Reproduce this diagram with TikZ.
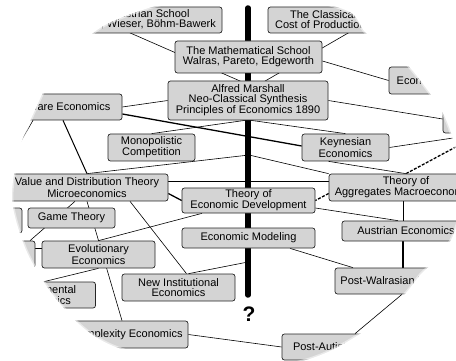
\documentclass[tikz,border=0pt]{standalone}
\usepackage{fontspec}
\setmainfont{Liberation Sans}
\usetikzlibrary{backgrounds}
\definecolor{boxgray}{RGB}{212,212,212}
\begin{document}
\begin{tikzpicture}[x=1pt,y=-1pt,
  box/.style={draw=black!85, line width=0.7pt, fill=boxgray, rounded corners=2.5pt,
    inner sep=0pt, align=center, font=\fontsize{11}{10}\selectfont},
  conn/.style={line width=0.6pt, black},
  heavyconn/.style={line width=1.3pt, black},
  dashconn/.style={line width=1.3pt, black, dashed, dash pattern=on 3pt off 1.5pt},
  mainbar/.style={line width=5.5pt, black, line cap=round}]
\useasboundingbox (0,0) rectangle (456,361);

% boxes
\node[box, minimum width=164pt, minimum height=26pt] (aus) at (140,20) {The Austrian School\\Menger, Wieser, Böhm-Bawerk};
\node[box, minimum width=132pt, minimum height=26pt, align=left] (cla) at (334,20) {\hspace*{15pt}The Classical School\\Cost of Production};
\node[box, minimum width=147pt, minimum height=32pt] (mat) at (248.5,57) {The Mathematical School\\Walras, Pareto, Edgeworth};
\node[box, minimum width=160pt, minimum height=39pt] (mar) at (248,100.5) {Alfred Marshall\\Neo-Classical Synthesis\\Principles of Economics 1890};
\node[box, minimum width=82pt, minimum height=27pt] (eco) at (430,80.5) {Econometrics};
\node[box, minimum width=118pt, minimum height=26pt] (wel) at (63,107) {Welfare Economics};
\node[box, minimum width=74pt, minimum height=23pt] (rbx) at (480,121.5) {};
\node[box, minimum width=87pt, minimum height=27pt] (mon) at (151.5,147.5) {Monopolistic\\Competition};
\node[box, minimum width=87pt, minimum height=27pt] (key) at (345.5,147.5) {Keynesian\\Economics};
\node[box, minimum width=162pt, minimum height=27pt] (val) at (87,187.5) {Value and Distribution Theory\\Microeconomics};
\node[box, minimum width=133pt, minimum height=25pt] (dev) at (248.5,200.5) {Theory of\\Economic Development};
\node[box, minimum width=154pt, minimum height=27pt] (agg) at (406,187.5) {Theory of\\Aggregates Macroeconomics};
\node[box, minimum width=44pt, minimum height=25pt] (lone) at (0,220.5) {};
\node[box, minimum width=87pt, minimum height=20pt] (gam) at (71.5,218) {Game Theory};
\node[box, minimum width=128pt, minimum height=20pt] (aue) at (406,231) {Austrian Economics};
\node[box, minimum width=133pt, minimum height=20pt] (mod) at (248.5,238) {Economic Modeling};
\node[box, minimum width=65pt, minimum height=27pt] (ltwo) at (2.5,254.5) {};
\node[box, minimum width=113pt, minimum height=27pt] (evo) at (98.5,254.5) {Evolutionary\\Economics};
\node[box, minimum width=103pt, minimum height=26pt] (exp) at (44,295) {Experimental\\Economics};
\node[box, minimum width=113pt, minimum height=27pt] (nie) at (178.5,287.5) {New Institutional\\Economics};
\node[box, minimum width=142pt, minimum height=26pt] (pwe) at (406,281) {Post-Walrasian Economics};
\node[box, minimum width=122pt, minimum height=27pt] (com) at (127,334.5) {Complexity Economics};
\node[box, minimum width=140pt, minimum height=26pt] (pae) at (352,347) {Post-Autistic Economics};
\node[font=\bfseries\fontsize{21}{21}\selectfont, inner sep=0pt] (q) at (249,314) {?};

\coordinate (bartop) at (248,8);
\coordinate (barbot) at (248,295);
\coordinate (jone) at (249,155);
\coordinate (jtwo) at (248,262);
\coordinate (kr) at (480,134);
\coordinate (ar) at (480,134);
\coordinate (wl) at (13,155);

\begin{pgfonlayer}{background}
\fill[white] (0,0) rectangle (456,361);
\draw[conn] ([shift={(-28,5)}]aus.center) -- ([shift={(0,-16)}]mar.center);
\draw[conn] ([shift={(28,5)}]cla.center) -- ([shift={(12,-16.5)}]mar.center);
\draw[conn] ([shift={(0,4)}]mat.east) -- (eco.west);
\draw[conn] (mar.west) -- (wel.east);
\draw[conn] (mar.east) -- ([shift={(0,-2.5)}]rbx.west);
\draw[heavyconn] ([shift={(0,7)}]wel.east) -- ([shift={(0,-1.5)}]key.west);
\draw[conn] ([shift={(-3,0)}]mar.south) -- (mon.north);
\draw[conn] ([shift={(3,0)}]mar.south) -- (key.north);
\draw[conn] (key.east) -- (kr);
\draw[conn] (jone) -- (val.north);
\draw[conn] (jone) -- (agg.north west);
\draw[conn] ([shift={(-17,0)}]key.south) -- (agg.north);
\draw[line width=1pt] (wel.south) -- (val.north);
\draw[conn] ([shift={(-30,0)}]wel.south) -- (wl);
\draw[conn] ([shift={(0,-6)}]val.east) -- ([shift={(0,-6)}]agg.west);
\draw[heavyconn] ([shift={(0,6)}]val.east) -- (dev.west);
\draw[dashconn] ([shift={(0,6)}]agg.west) -- (dev.east);
\draw[dashconn] (agg.north) -- (ar);
\draw[conn] ([shift={(-3,0)}]agg.south) -- ([shift={(-3,0)}]aue.north);
\draw[heavyconn] ([shift={(-3,0)}]aue.south) -- ([shift={(-3,0)}]pwe.north);
\draw[conn] ([shift={(0,7.5)}]dev.east) -- ([shift={(-8,0)}]aue.north);
\draw[conn] ([shift={(-46.5,0)}]dev.south) -- (evo.north);
\draw[conn] ([shift={(-12,0)}]val.south) -- ([shift={(27.5,0)}]ltwo.north);
\draw[conn] (val.south) -- ([shift={(-5,0)}]com.north);
\draw[conn] ([shift={(43,0)}]val.south) -- ([shift={(8,0)}]nie.north);
\draw[conn] (jtwo) -- ([shift={(10,0)}]nie.north);
\draw[conn] ([shift={(41.5,0)}]mod.south) -- ([shift={(-53,0)}]pwe.north);
\draw[conn] (evo.south) -- (exp.north);
\draw[conn] ([shift={(0,-6)}]evo.west) -- ([shift={(0,-6)}]ltwo.east);
\draw[conn] (com.east) -- (pae.west);
\draw[conn] ([shift={(-4,0)}]pwe.south) -- ([shift={(3,0)}]pae.north);
\draw[mainbar] (bartop) -- (barbot);
\end{pgfonlayer}

% vignette mask (soft oval window)
\fill[white, even odd rule] (-10,-10) rectangle (466,371)
  plot[smooth cycle] coordinates {(240,-6) (300,-2) (350,12) (366,33) (398,55) (420,80) (444,115)
   (459,160) (463,200) (452,238) (436,260) (421,274) (406,293) (386,314) (360,334) (328,352)
   (295,363) (240,372) (180,366) (113,346) (80,325) (50,291) (26,250) (12,200) (19,150)
   (35,110) (58,65) (97,30) (128,15) (172,2)};
\draw[white, line width=3pt, opacity=0.5]
  plot[smooth cycle] coordinates {(240,-6) (300,-2) (350,12) (366,33) (398,55) (420,80) (444,115)
   (459,160) (463,200) (452,238) (436,260) (421,274) (406,293) (386,314) (360,334) (328,352)
   (295,363) (240,372) (180,366) (113,346) (80,325) (50,291) (26,250) (12,200) (19,150)
   (35,110) (58,65) (97,30) (128,15) (172,2)};
\end{tikzpicture}
\end{document}
